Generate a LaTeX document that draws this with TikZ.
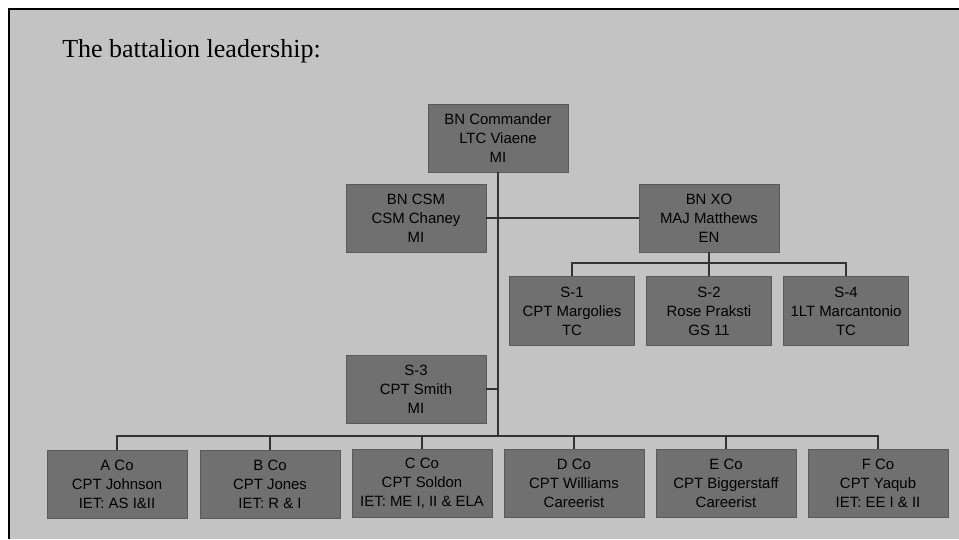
\documentclass[tikz,border=0pt]{standalone}
\usepackage{fontspec}
\usepackage{xcolor}
\setmainfont{Liberation Serif}
\newfontfamily\boxfont{Liberation Sans}
\definecolor{paper}{RGB}{195,195,195}
\definecolor{boxgray}{RGB}{112,112,112}
\definecolor{linegray}{RGB}{50,50,50}
\tikzset{
  unit/.style={fill=boxgray, draw=boxgray!80!black, line width=0.6pt,
    minimum width=105pt, minimum height=51pt, inner sep=0pt,
    align=center, font=\boxfont\fontsize{11.2}{14.25}\selectfont},
  staffunit/.style={unit, minimum width=93.75pt, minimum height=51.5pt},
  link/.style={draw=linegray, line width=1.5pt}
}
\begin{document}
\begin{tikzpicture}[x=0.75pt,y=-0.75pt]
        % Page and scan frame
        \useasboundingbox (0,0) rectangle (959,539);
        \fill[white] (0,0) rectangle (959,539);
        \fill[paper] (9,9) rectangle (959,539);
        \draw[line width=2.2pt] (9,539) -- (9,9) -- (959,9);

        % Title
        \node[anchor=base west, inner sep=0pt, font=\fontsize{19.5}{23}\selectfont] (title) at (62,57) {The battalion leadership:};

        % Command group
        \node[unit] (cmd) at (498,138) {BN Commander\\LTC Viaene\\MI};
        \node[unit] (csm) at (416,218) {BN CSM\\CSM Chaney\\MI};
        \node[unit] (xo) at (709,218) {BN XO\\MAJ Matthews\\EN};

        % Staff
        \node[staffunit] (sone) at (572,311) {S-1\\CPT Margolies\\TC};
        \node[staffunit] (stwo) at (709,311) {S-2\\Rose Praksti\\GS 11};
        \node[staffunit] (sfour) at (846,311) {S-4\\1LT Marcantonio\\TC};
        \node[unit] (sthree) at (416,389) {S-3\\CPT Smith\\MI};

        % Companies
        \node[unit] (aco) at (117,484) {A Co\\CPT Johnson\\IET: AS I\&II};
        \node[unit] (bco) at (270,484) {B Co\\CPT Jones\\IET: R \& I};
        \node[unit] (cco) at (422,483) {C Co\\CPT Soldon\\IET: ME I, II \& ELA};
        \node[unit] (dco) at (574,483) {D Co\\CPT Williams\\Careerist};
        \node[unit] (eco) at (726,483) {E Co\\CPT Biggerstaff\\Careerist};
        \node[unit] (fco) at (878,483) {F Co\\CPT Yaqub\\IET: EE I \& II};

        % Bus points
        \coordinate (trunk) at (498,436);
        \coordinate (staffbus) at (709,263);

        % Main trunk
        \draw[link] (cmd.south) -- (cmd.south |- trunk);
        \draw[link] (csm.east) -- (xo.west); % CSM to XO
        \draw[link] (sthree.east) -- (sthree.east -| cmd.south); % S-3 to trunk

        % Staff lines
        \draw[link] (xo.south) -- (xo.south |- staffbus);
        \draw[link] (sone.north) -- (sone.north |- staffbus) -| (sfour.north);
        \draw[link] (stwo.north) -- (stwo.north |- staffbus);

        % Company lines
        \draw[link] (aco.north) -- (aco.north |- trunk) -| (fco.north);
        \foreach \co in {bco,cco,dco,eco}
            \draw[link] (\co.north) -- (\co.north |- trunk);
    \end{tikzpicture}
\end{document}
